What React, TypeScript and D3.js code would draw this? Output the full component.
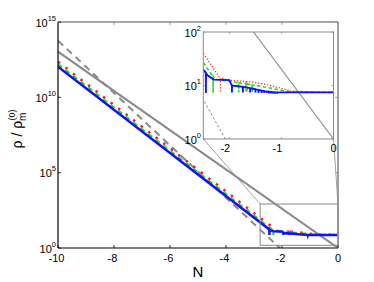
import React from 'react';
import * as d3 from 'd3';

// ---- data (N = ln a, values are log10(rho / rho_m^(0))) ----
const mainNTicks = [-10, -8, -6, -4, -2, 0];
const mainYTickExps = [0, 5, 10, 15];
const insetNTicks = [-2, -1, 0];
const insetYTickExps = [0, 1, 2];

const redN = [-10, -2.18, -2.0, -1.6, -1.3, -1.0, -0.8, 0];
const redLog = [12.36, 1.14, 1.1, 1.07, 1.02, 0.95, 0.89, 0.87];
const redSpikeN = [-2.17, -1.68];
const redSpikeLow = [0.87, 0.88];

const greenN = [-10, -2.28, -2.0, -1.6, -1.2, -0.9, 0];
const greenLog = [12.2, 1.12, 1.08, 1.02, 0.95, 0.89, 0.87];
const greenSpikeN = [-2.31, -1.82, -1.66, -1.56];
const greenSpikeLow = [0.86, 0.87, 0.88, 0.88];

const blueN = [-10, -2.42, -2.3, -2.0, -1.95, -1.7, -1.5, -1.3, -1.1, 0];
const blueLog = [12.03, 1.19, 1.11, 1.1, 1.0, 0.97, 0.93, 0.89, 0.87, 0.87];
const blueSpikeN = [-2.45, -1.95, -1.74, -1.6, -1.5, -1.44, -1.38, -1.33, -1.28, -1.24, -1.2, -1.16, -1.12, -1.08];
const blueSpikeLow = [0.86, 0.87, 0.87, 0.87, 0.87, 0.86, 0.86, 0.86, 0.86, 0.85, 0.85, 0.85, 0.85, 0.85];

// reference scalings: matter (e^{-3N}) solid gray, radiation (e^{-4N}) dashed gray
const matterN = [-10, 0];
const matterLog = [13.03, 0];
const radN = [-10, 0];
const radLog = [13.76, -3.61];

// zoom box drawn in the main panel
const zoomBoxN = [-2.78, 0];
const zoomBoxLog = [0.18, 2.92];

const insetNDomain = [-2.5, 0];
const insetLogDomain = [0, 2];

type P = [number, number];

function withSpikes(ns: number[], logs: number[], sN: number[], sLow: number[]): P[] {
  const f = d3.scaleLinear().domain(ns).range(logs);
  const pts: P[] = ns.map((n, i) => [n, logs[i]] as P);
  sN.forEach((n, i) => {
    const b = f(n);
    pts.push([n - 0.003, b], [n, sLow[i]], [n + 0.003, b]);
  });
  pts.sort((a, b) => a[0] - b[0]);
  return pts;
}

const FONT = "'Liberation Sans', Arial, Helvetica, sans-serif";
const GRAY = '#8a8a8a';
const RED = '#ff1a1a';
const GREEN = '#22dd22';
const BLUE = '#1010ff';

export default function App() {
  const W = 374, H = 282;
  // main panel
  const mx = d3.scaleLinear().domain([-10, 0]).range([58, 338]);
  const my = d3.scaleLog().domain([1, 1e15]).range([248, 22]);
  // inset panel
  const ix = d3.scaleLinear().domain(insetNDomain).range([203.3, 333.5]);
  const iy = d3.scaleLog().domain([10 ** insetLogDomain[0], 10 ** insetLogDomain[1]]).range([139, 32]);

  const red = withSpikes(redN, redLog, redSpikeN, redSpikeLow);
  const green = withSpikes(greenN, greenLog, greenSpikeN, greenSpikeLow);
  const blue = withSpikes(blueN, blueLog, blueSpikeN, blueSpikeLow);
  const matter: P[] = matterN.map((n, i) => [n, matterLog[i]]);
  const rad: P[] = radN.map((n, i) => [n, radLog[i]]);

  const mainLine = d3.line<P>().x(d => mx(d[0])).y(d => my(10 ** d[1]));
  const insetLine = d3.line<P>().x(d => ix(d[0])).y(d => iy(10 ** d[1]));

  const [mx0, mx1] = mx.range();
  const [my0, my1] = my.range();
  const [ix0, ix1] = ix.range();
  const [iy0, iy1] = iy.range();

  const bx0 = mx(zoomBoxN[0]), bx1 = mx(zoomBoxN[1]);
  const by0 = my(10 ** zoomBoxLog[0]), by1 = my(10 ** zoomBoxLog[1]);

  return (
    <svg width={W} height={H} style={{ position: 'absolute', left: 0, top: 0, background: '#fff' }} fontFamily={FONT}>
      <defs>
        <clipPath id="mainClip"><rect x={mx0} y={my1} width={mx1 - mx0} height={my0 - my1} /></clipPath>
        <clipPath id="insetClip"><rect x={ix0} y={iy1} width={ix1 - ix0} height={iy0 - iy1} /></clipPath>
      </defs>
      <rect x={0} y={0} width={W} height={H} fill="#fff" />

      {/* main curves */}
      <g clipPath="url(#mainClip)" fill="none">
        <path d={mainLine(matter) || ''} stroke={GRAY} strokeWidth={2} />
        <path d={mainLine(rad) || ''} stroke={GRAY} strokeWidth={2} strokeDasharray="7,5" />
        <path d={mainLine(red) || ''} stroke={RED} strokeWidth={2.5} strokeDasharray="2.5,7" />
        <path d={mainLine(green) || ''} stroke={GREEN} strokeWidth={2.2} strokeDasharray="5,4.5" />
        <path d={mainLine(blue) || ''} stroke={BLUE} strokeWidth={2.5} />
      </g>

      {/* main frame */}
      <line x1={mx0} x2={mx1} y1={my1} y2={my1} stroke={GRAY} strokeWidth={1.6} />
      <line x1={mx1} x2={mx1} y1={my1} y2={my0} stroke={GRAY} strokeWidth={1.6} />
      <line x1={mx0} x2={mx0} y1={my1} y2={my0} stroke="#000" strokeWidth={1.2} />
      <line x1={mx0} x2={mx1} y1={my0} y2={my0} stroke="#000" strokeWidth={1.2} />

      {mainNTicks.map(t => (
        <g key={'mxt' + t}>
          <line x1={mx(t)} x2={mx(t)} y1={my0} y2={my0 - 3} stroke="#000" strokeWidth={0.8} />
          <line x1={mx(t)} x2={mx(t)} y1={my1} y2={my1 + 3} stroke={GRAY} strokeWidth={0.8} />
          <text x={mx(t) - (t < 0 ? 1.5 : 0)} y={262} fontSize={11} textAnchor="middle">{t}</text>
        </g>
      ))}
      {mainYTickExps.map(e => (
        <g key={'myt' + e}>
          <line x1={mx0} x2={mx0 + 3} y1={my(10 ** e)} y2={my(10 ** e)} stroke="#000" strokeWidth={0.8} />
          <line x1={mx1} x2={mx1 - 3} y1={my(10 ** e)} y2={my(10 ** e)} stroke={GRAY} strokeWidth={0.8} />
          <text x={56} y={my(10 ** e) + 4.5} fontSize={11} textAnchor="end">
            10<tspan fontSize={7.5} dy={-6}>{e}</tspan>
          </text>
        </g>
      ))}

      <text x={198} y={276.5} fontSize={15} textAnchor="middle">N</text>
      <text transform="translate(22,129) rotate(-90)" fontSize={14} textAnchor="middle">
        ρ / ρ<tspan fontSize={10} dy={4}>m</tspan><tspan fontSize={9} dx={-8} dy={-11}>(0)</tspan>
      </text>

      {/* zoom box and connectors */}
      <rect x={bx0} y={by1} width={bx1 - bx0} height={by0 - by1} fill="none" stroke={GRAY} strokeWidth={1} />
      <line x1={ix0} y1={iy0} x2={bx0} y2={by1} stroke={GRAY} strokeWidth={0.8} />
      <line x1={ix1} y1={iy0} x2={bx1} y2={by1} stroke={GRAY} strokeWidth={0.8} />

      {/* inset */}
      <rect x={ix0} y={iy1} width={ix1 - ix0} height={iy0 - iy1} fill="#fff" />
      <g clipPath="url(#insetClip)" fill="none">
        <path d={insetLine(matter) || ''} stroke={GRAY} strokeWidth={1.1} />
        <path d={insetLine(rad) || ''} stroke={GRAY} strokeWidth={1} strokeDasharray="2.5,2" />
        <path d={insetLine(red) || ''} stroke={RED} strokeWidth={1.2} strokeDasharray="1.2,1.8" />
        <path d={insetLine(green) || ''} stroke={GREEN} strokeWidth={1.6} strokeDasharray="3.5,2.5" />
        <path d={insetLine(blue) || ''} stroke={BLUE} strokeWidth={1.8} />
      </g>
      <rect x={ix0} y={iy1} width={ix1 - ix0} height={iy0 - iy1} fill="none" stroke={GRAY} strokeWidth={1} />
      {insetNTicks.map(t => (
        <g key={'ixt' + t}>
          <line x1={ix(t)} x2={ix(t)} y1={iy0} y2={iy0 - 2} stroke={GRAY} strokeWidth={0.7} />
          <line x1={ix(t)} x2={ix(t)} y1={iy1} y2={iy1 + 2} stroke={GRAY} strokeWidth={0.7} />
          <text x={ix(t) - (t < 0 ? 4 : 0)} y={152} fontSize={11} textAnchor="middle">{t}</text>
        </g>
      ))}
      {insetYTickExps.map(e => (
        <g key={'iyt' + e}>
          <line x1={ix0} x2={ix0 + 2} y1={iy(10 ** e)} y2={iy(10 ** e)} stroke={GRAY} strokeWidth={0.7} />
          <line x1={ix1} x2={ix1 - 2} y1={iy(10 ** e)} y2={iy(10 ** e)} stroke={GRAY} strokeWidth={0.7} />
          <text x={201} y={iy(10 ** e) + 4.5} fontSize={11} textAnchor="end">
            10<tspan fontSize={7.5} dy={-6}>{e}</tspan>
          </text>
        </g>
      ))}
    </svg>
  );
}
